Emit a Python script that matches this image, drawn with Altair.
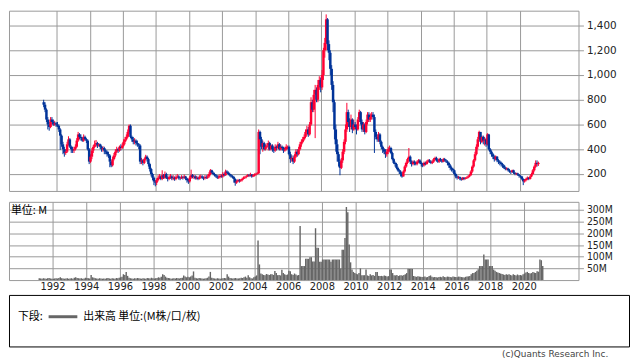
import altair as alt
import pandas as pd

# ---------------- data (monthly candles, first month = 1991-03) ----------------
START_YEAR = 1991
START_MONTH = 3

opens = [
    780, 760, 720, 640, 600, 580, 640, 620, 600, 610,
    600, 590, 560, 510, 440, 400, 370, 380, 440, 480, 420, 400,
    390, 400, 420, 470, 520, 500, 490, 470, 500, 480, 470, 400,
    300, 340, 390, 420, 440, 450, 430, 440, 420, 400, 410, 390,
    380, 360, 350, 300, 270, 320, 350, 380, 400, 390, 420, 410,
    430, 460, 480, 500, 540, 590, 500, 480, 460, 470, 450, 440,
    430, 300, 310, 290, 320, 340, 320, 280, 240, 200, 170, 140,
    130, 150, 170, 180, 160, 190, 170, 200, 170, 160, 175, 180,
    165, 170, 160, 175, 180, 170, 165, 175, 170, 180, 165, 150,
    140, 170, 190, 175, 180, 165, 170, 160, 175, 180, 170, 165,
    175, 170, 180, 200, 230, 210, 200, 190, 180, 170, 175, 185,
    180, 200, 190, 220, 210, 200, 190, 180, 175, 160, 130, 140,
    150, 145, 150, 160, 170, 175, 180, 190, 185, 195, 180, 190,
    195, 200, 205, 540, 480, 420, 450, 400, 420, 430, 450, 400,
    430, 400, 390, 420, 410, 440, 400, 420, 410, 390, 400, 420,
    420, 360, 320, 330, 300, 340, 380, 360, 400, 440, 460, 480,
    500, 540, 560, 520, 600, 780, 720, 840, 880, 800, 920, 960,
    900, 1000, 1200, 1260, 1450, 1250, 1180, 1050, 920, 780, 560, 440,
    360, 300, 250, 310, 380, 460, 560, 700, 620, 580, 640, 560,
    600, 580, 560, 640, 700, 620, 560, 600, 540, 620, 680, 640,
    660, 680, 660, 540, 500, 480, 520, 460, 420, 400, 380, 360,
    380, 400, 410, 370, 320, 290, 280, 250, 230, 220, 200, 180,
    220, 260, 290, 320, 340, 300, 280, 300, 290, 280, 300, 310,
    290, 280, 270, 290, 280, 300, 310, 300, 290, 300, 320, 330,
    310, 300, 320, 310, 300, 320, 310, 300, 290, 270, 250, 240,
    230, 200, 180, 170, 175, 165, 155, 170, 160, 165, 170, 180,
    190, 220, 260, 310, 360, 420, 480, 540, 460, 500, 470, 480,
    440, 520, 400, 380, 360, 340, 320, 340, 310, 300, 290, 280,
    270, 250, 240, 245, 230, 220, 215, 230, 210, 200, 205, 195,
    185, 180, 160, 140, 150, 160, 170, 160, 180, 200, 230, 260,
    290, 280,
]

highs = [
    800, 780, 730, 660, 620, 660, 660, 640, 630, 620,
    620, 600, 570, 520, 460, 420, 400, 460, 505, 490, 430, 420,
    420, 440, 490, 540, 530, 520, 500, 520, 510, 490, 480, 410,
    360, 410, 435, 470, 475, 460, 450, 445, 430, 425, 420, 400,
    390, 380, 360, 310, 340, 370, 400, 420, 410, 430, 440, 450,
    480, 500, 520, 560, 600, 600, 510, 500, 490, 480, 470, 450,
    440, 330, 320, 330, 355, 350, 330, 290, 250, 210, 180, 150,
    165, 190, 200, 190, 230, 200, 220, 210, 180, 190, 200, 190,
    190, 180, 190, 200, 190, 180, 190, 185, 195, 185, 170, 160,
    185, 235, 200, 195, 190, 185, 180, 190, 195, 190, 180, 190,
    190, 195, 215, 240, 235, 220, 210, 200, 190, 190, 200, 195,
    215, 210, 235, 230, 220, 210, 200, 190, 185, 165, 150, 160,
    160, 160, 170, 180, 185, 190, 200, 200, 210, 200, 200, 205,
    210, 215, 560, 550, 500, 470, 460, 440, 450, 470, 460, 440,
    440, 420, 440, 430, 460, 450, 440, 430, 420, 420, 440, 430,
    430, 380, 350, 350, 360, 400, 400, 420, 460, 480, 500, 520,
    560, 590, 580, 620, 820, 800, 880, 920, 900, 960, 990, 980,
    1040, 1220, 1300, 1490, 1460, 1280, 1200, 1080, 950, 800, 600, 480,
    380, 320, 330, 400, 480, 600, 775, 720, 650, 680, 650, 640,
    620, 600, 660, 720, 710, 640, 620, 610, 640, 700, 700, 690,
    700, 700, 680, 560, 520, 540, 530, 470, 430, 410, 400, 400,
    420, 430, 420, 380, 330, 300, 290, 260, 240, 230, 210, 230,
    270, 300, 330, 410, 350, 310, 310, 310, 300, 310, 320, 320,
    300, 290, 300, 300, 310, 320, 320, 310, 310, 330, 340, 340,
    320, 330, 330, 320, 330, 330, 320, 310, 300, 280, 260, 250,
    235, 210, 190, 185, 180, 170, 175, 175, 175, 180, 190, 200,
    230, 270, 320, 380, 440, 500, 550, 540, 510, 510, 500, 490,
    530, 525, 410, 390, 370, 350, 350, 345, 320, 310, 300, 290,
    275, 260, 255, 250, 240, 225, 235, 235, 215, 210, 210, 200,
    190, 185, 165, 160, 170, 180, 175, 190, 210, 240, 270, 310,
    310, 300,
]

lows = [
    740, 700, 620, 560, 550, 570, 600, 590, 590, 580,
    580, 540, 395, 420, 360, 340, 355, 370, 430, 410, 370, 370,
    370, 390, 410, 460, 480, 470, 460, 460, 470, 450, 390, 280,
    290, 320, 370, 410, 420, 410, 420, 400, 380, 380, 360, 360,
    340, 330, 255, 255, 260, 310, 335, 370, 370, 380, 390, 400,
    420, 440, 470, 490, 520, 490, 460, 440, 440, 430, 420, 400,
    280, 280, 270, 280, 310, 300, 260, 220, 180, 150, 110, 100,
    110, 140, 160, 150, 150, 160, 160, 160, 140, 150, 160, 150,
    150, 145, 150, 165, 155, 150, 160, 155, 160, 150, 130, 120,
    130, 160, 165, 160, 155, 155, 150, 155, 165, 160, 150, 155,
    160, 160, 170, 190, 200, 190, 180, 170, 160, 160, 165, 170,
    170, 180, 185, 200, 190, 180, 170, 165, 130, 105, 120, 135,
    130, 135, 140, 155, 160, 165, 175, 175, 180, 170, 175, 180,
    185, 195, 200, 360, 400, 380, 390, 390, 410, 390, 390, 390,
    380, 370, 380, 390, 400, 390, 390, 390, 370, 380, 390, 400,
    350, 290, 300, 280, 290, 330, 340, 350, 390, 420, 450, 470,
    490, 510, 500, 510, 590, 700, 700, 490, 780, 780, 880, 860,
    880, 960, 1140, 1200, 1200, 1120, 1000, 880, 700, 480, 380, 300,
    260, 190, 240, 290, 360, 440, 540, 580, 540, 560, 530, 550,
    560, 520, 550, 620, 600, 540, 540, 520, 530, 600, 620, 620,
    640, 640, 370, 480, 460, 460, 440, 400, 370, 360, 330, 340,
    360, 380, 360, 310, 280, 260, 240, 220, 200, 180, 170, 180,
    210, 250, 280, 300, 280, 260, 270, 270, 270, 270, 290, 280,
    260, 255, 260, 270, 275, 290, 290, 280, 280, 290, 310, 300,
    290, 290, 300, 290, 295, 300, 290, 270, 250, 230, 220, 210,
    190, 165, 155, 160, 150, 145, 150, 150, 155, 160, 165, 175,
    185, 210, 250, 300, 350, 400, 470, 440, 450, 440, 430, 420,
    430, 390, 360, 340, 320, 300, 310, 295, 280, 270, 260, 250,
    240, 230, 230, 220, 210, 200, 210, 200, 190, 190, 185, 170,
    170, 150, 110, 130, 140, 150, 150, 155, 175, 195, 220, 250,
    260, 265,
]

closes = [
    760, 720, 640, 600, 580, 640, 620, 600, 610, 600,
    590, 560, 510, 440, 400, 370, 380, 440, 480, 420, 400, 390,
    400, 420, 470, 520, 500, 490, 470, 500, 480, 470, 400, 300,
    340, 390, 420, 440, 450, 430, 440, 420, 400, 410, 390, 380,
    360, 350, 300, 270, 320, 350, 380, 400, 390, 420, 410, 430,
    460, 480, 500, 540, 590, 500, 480, 460, 470, 450, 440, 430,
    300, 310, 290, 320, 340, 320, 280, 240, 200, 170, 140, 130,
    150, 170, 180, 160, 190, 170, 200, 170, 160, 175, 180, 165,
    170, 160, 175, 180, 170, 165, 175, 170, 180, 165, 150, 140,
    170, 190, 175, 180, 165, 170, 160, 175, 180, 170, 165, 175,
    170, 180, 200, 230, 210, 200, 190, 180, 170, 175, 185, 180,
    200, 190, 220, 210, 200, 190, 180, 175, 160, 130, 140, 150,
    145, 150, 160, 170, 175, 180, 190, 185, 195, 180, 190, 195,
    200, 205, 540, 480, 420, 450, 400, 420, 430, 450, 400, 430,
    400, 390, 420, 410, 440, 400, 420, 410, 390, 400, 420, 420,
    360, 320, 330, 300, 340, 380, 360, 400, 440, 460, 480, 500,
    540, 560, 520, 600, 780, 720, 840, 880, 800, 920, 960, 900,
    1000, 1200, 1260, 1450, 1250, 1180, 1050, 920, 780, 560, 440, 360,
    300, 250, 310, 380, 460, 560, 700, 620, 580, 640, 560, 600,
    580, 560, 640, 700, 620, 560, 600, 540, 620, 680, 640, 660,
    680, 660, 540, 500, 480, 520, 460, 420, 400, 380, 360, 380,
    400, 410, 370, 320, 290, 280, 250, 230, 220, 200, 180, 220,
    260, 290, 320, 340, 300, 280, 300, 290, 280, 300, 310, 290,
    280, 270, 290, 280, 300, 310, 300, 290, 300, 320, 330, 310,
    300, 320, 310, 300, 320, 310, 300, 290, 270, 250, 240, 230,
    200, 180, 170, 175, 165, 155, 170, 160, 165, 170, 180, 190,
    220, 260, 310, 360, 420, 480, 540, 460, 500, 470, 480, 440,
    520, 400, 380, 360, 340, 320, 340, 310, 300, 290, 280, 270,
    250, 240, 245, 230, 220, 215, 230, 210, 200, 205, 195, 185,
    180, 160, 140, 150, 160, 170, 160, 180, 200, 230, 260, 290,
    280, 290,
]

# monthly volume, millions
volumes = [
    8, 7, 6, 8, 7, 6, 8, 9, 7, 6,
    6, 7, 8, 7, 9, 12, 8, 7, 6, 7, 8, 6,
    7, 8, 6, 10, 12, 9, 8, 7, 8, 6, 7, 10,
    9, 8, 7, 22, 12, 10, 8, 7, 6, 8, 7, 6,
    7, 6, 8, 9, 7, 6, 8, 7, 6, 9, 8, 10,
    12, 14, 25, 22, 35, 18, 10, 8, 7, 6, 8, 7,
    9, 8, 7, 6, 8, 7, 6, 9, 8, 7, 10, 8,
    7, 8, 9, 12, 10, 14, 25, 22, 15, 10, 9, 8,
    6, 7, 8, 7, 9, 8, 7, 9, 10, 20, 15, 12,
    14, 12, 15, 20, 37, 10, 8, 7, 9, 8, 7, 6,
    7, 8, 10, 15, 35, 10, 8, 7, 6, 8, 7, 6,
    7, 8, 9, 8, 25, 15, 9, 8, 7, 8, 9, 7,
    7, 8, 10, 9, 12, 15, 10, 21, 12, 8, 7, 12,
    15, 20, 170, 67, 28, 25, 22, 21, 26, 24, 22, 25,
    25, 22, 39, 30, 21, 22, 20, 44, 30, 25, 22, 24,
    40, 38, 25, 22, 28, 24, 20, 22, 232, 60, 60, 60,
    91, 91, 91, 98, 98, 80, 80, 222, 138, 138, 78, 78,
    88, 88, 88, 88, 88, 88, 78, 88, 88, 88, 88, 88,
    88, 50, 130, 130, 180, 313, 290, 152, 76, 45, 35, 30,
    27, 25, 30, 50, 21, 21, 21, 45, 20, 18, 25, 20,
    22, 18, 35, 35, 18, 17, 18, 16, 20, 18, 15, 17,
    45, 45, 30, 21, 20, 22, 18, 20, 21, 19, 22, 25,
    30, 48, 48, 48, 48, 18, 15, 14, 16, 15, 14, 13,
    14, 15, 12, 13, 18, 20, 14, 12, 13, 12, 11, 13,
    14, 12, 16, 13, 12, 15, 14, 13, 12, 15, 14, 13,
    12, 15, 14, 13, 12, 11, 14, 15, 16, 18, 25, 30,
    30, 35, 40, 46, 60, 60, 60, 110, 88, 88, 88, 60,
    60, 60, 45, 40, 35, 32, 30, 28, 26, 24, 22, 25,
    23, 25, 22, 20, 25, 22, 20, 24, 21, 22, 20, 25,
    28, 32, 35, 30, 28, 30, 35, 32, 30, 38, 36, 88,
    85, 60,
]

YEAR_TICKS = list(range(1992, 2021, 2))
PRICE_TICKS = [200, 400, 600, 800, 1000, 1200, 1400]
VOLUME_TICKS = [50, 100, 150, 200, 250, 300]
VOLUME_UNIT = "単位: M"
LEGEND_TITLE = "下段:"
LEGEND_LABEL = "出来高 単位:(M株/口/枚)"
COPYRIGHT = "(c)Quants Research Inc."

# ---------------- table ----------------
n = len(closes)
years, months = [], []
for i in range(n):
    k = (START_MONTH - 1) + i
    years.append(START_YEAR + k // 12)
    months.append(k % 12 + 1)

df = pd.DataFrame({
    "year": years, "month": months,
    "open": opens[:n], "high": highs[:n], "low": lows[:n], "close": closes[:n],
    "vol": volumes[:n],
})
df["t0"] = df["year"] + (df["month"] - 1) / 12.0
df["t1"] = df["t0"] + 1 / 12.0
df["tc"] = df["t0"] + 1 / 24.0

RED = "#ff0033"
BLUE = "#003399"
GRID = "#999999"
CJK = "Noto Sans CJK JP"
LATIN = "DejaVu Sans"

X_DOMAIN = [1989.41, 2023.25]
W = 575

# ---------------- price panel ----------------
px_axis = alt.Axis(values=YEAR_TICKS, labels=False, ticks=False, domain=False,
                   grid=True, gridColor=GRID, gridWidth=1, title=None)
py_axis = alt.Axis(orient="right", values=PRICE_TICKS, format=",d", grid=True,
                   gridColor=GRID, gridWidth=1, domain=False, tickColor=GRID,
                   tickSize=5, labelPadding=3, labelFont=LATIN, labelFontSize=10.5,
                   labelColor="#222222", title=None)
px = alt.X("tc:Q", scale=alt.Scale(domain=X_DOMAIN, nice=False, zero=False), axis=px_axis)
py_scale = alt.Scale(domain=[63, 1520], nice=False, zero=False)

updown = alt.when(alt.datum.close >= alt.datum.open).then(alt.value(RED)).otherwise(alt.value(BLUE))

base = alt.Chart(df)
wick = base.mark_rule(strokeWidth=1).encode(
    x=px, y=alt.Y("low:Q", scale=py_scale, axis=py_axis), y2="high:Q", color=updown)
body = base.mark_bar(size=2.5).encode(
    x=px, y=alt.Y("open:Q", scale=py_scale, axis=py_axis), y2="close:Q", color=updown)

price = alt.layer(wick, body).properties(
    width=W, height=182, view=alt.ViewBackground(stroke=GRID, strokeWidth=1))

# ---------------- volume panel ----------------
vx_axis = alt.Axis(values=YEAR_TICKS, format="d", ticks=False, domain=False, grid=True,
                   gridColor=GRID, gridWidth=1, labelPadding=2, labelFont=LATIN,
                   labelFontSize=10, labelColor="#222222", labelFlush=False, title=None)
vy_axis = alt.Axis(orient="right", values=VOLUME_TICKS, labelExpr="datum.value + 'M'",
                   grid=True, gridColor=GRID, gridWidth=1, domain=False, tickColor=GRID,
                   tickSize=5, labelPadding=3,
                   labelFont="'Liberation Sans Narrow', 'DejaVu Sans Condensed', sans-serif",
                   labelFontSize=10.5, labelColor="#222222", title=None)

vol_bars = alt.Chart(df).mark_rect(color="#666666", strokeWidth=0).encode(
    x=alt.X("t0:Q", scale=alt.Scale(domain=X_DOMAIN, nice=False, zero=False), axis=vx_axis),
    x2="t1:Q",
    y=alt.Y("vol:Q", scale=alt.Scale(domain=[0, 335], nice=False), axis=vy_axis),
    y2=alt.datum(0),
)
unit_text = alt.Chart(pd.DataFrame({"label": [VOLUME_UNIT]})).mark_text(
    align="left", baseline="middle", font=CJK, fontSize=11, color="#000000"
).encode(x=alt.value(2), y=alt.value(9), text="label:N")

volume = alt.layer(vol_bars, unit_text).properties(
    width=W, height=79, view=alt.ViewBackground(stroke=GRID, strokeWidth=1))

# ---------------- legend box ----------------
leg_title = alt.Chart(pd.DataFrame({"label": [LEGEND_TITLE]})).mark_text(
    align="left", baseline="middle", font=CJK, fontSize=11, color="#000000"
).encode(x=alt.value(9), y=alt.value(22), text="label:N")
leg_line = alt.Chart(pd.DataFrame({"label": [LEGEND_LABEL]})).mark_rule(
    color="#666666", strokeWidth=3
).encode(x=alt.value(40), x2=alt.value(69), y=alt.value(22))
leg_label = alt.Chart(pd.DataFrame({"label": [LEGEND_LABEL]})).mark_text(
    align="left", baseline="middle", font=CJK, fontSize=11, color="#000000"
).encode(x=alt.value(75), y=alt.value(22), text="label:N")

legend = alt.layer(leg_title, leg_line, leg_label).properties(
    width=626, height=52,
    view=alt.ViewBackground(stroke="#000000", strokeWidth=1),
    title=alt.TitleParams(COPYRIGHT, orient="bottom", anchor="end", font=LATIN,
                          fontSize=9, fontWeight="normal", color="#444444",
                          offset=4, dx=-21),
)

chart = alt.vconcat(
    alt.vconcat(price, volume, spacing=9),
    legend,
    spacing=1,
).properties(padding={"left": 0, "top": 0, "right": 0, "bottom": 0}
).configure_view(strokeWidth=1)

chart.save("out.html", embed_options={"renderer": "svg", "actions": False})
